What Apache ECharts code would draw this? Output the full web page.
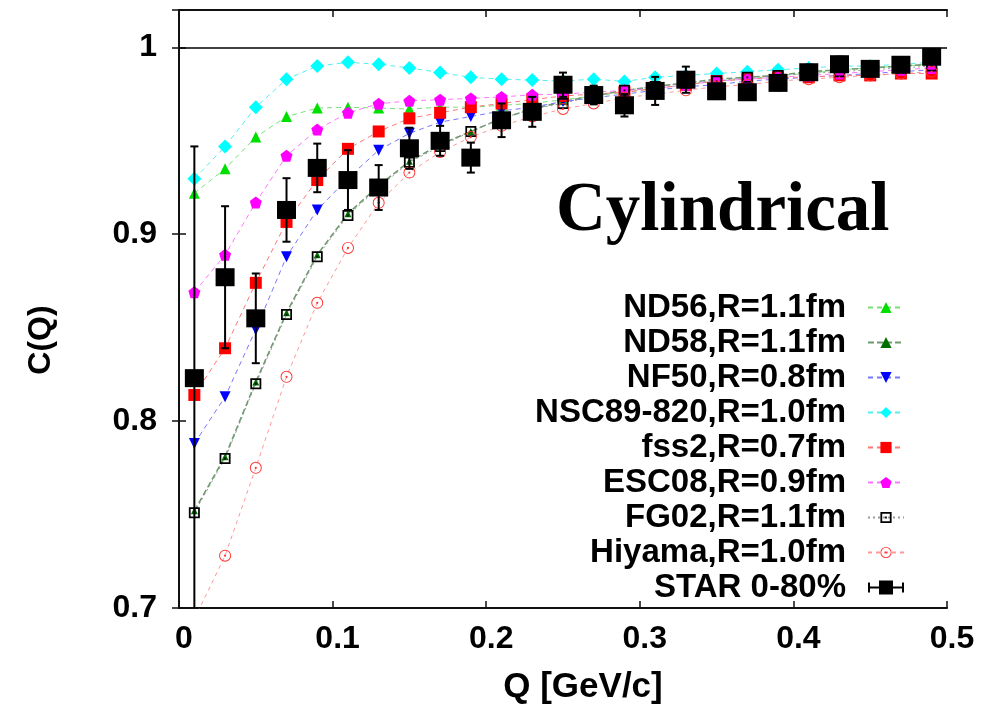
<!DOCTYPE html>
<html><head><meta charset="utf-8">
<script src="https://cdn.jsdelivr.net/npm/echarts/dist/echarts.min.js"></script>
<style>html,body{margin:0;padding:0;background:#fff}#c{width:990px;height:711px}</style>
</head><body><div id="c"></div>
<script>
// ---- data ----
const Q = [0.01,0.03,0.05,0.07,0.09,0.11,0.13,0.15,0.17,0.19,0.21,0.23,0.25,0.27,0.29,0.31,0.33,0.35,0.37,0.39,0.41,0.43,0.45,0.47,0.49];
const ND56   = [0.922,0.935,0.952,0.963,0.9675,0.968,0.9675,0.967,0.968,0.968,0.969,0.970,0.972,0.974,0.976,0.978,0.980,0.982,0.983,0.985,0.986,0.988,0.989,0.990,0.991];
const ND58   = [0.752,0.781,0.821,0.858,0.889,0.911,0.926,0.939,0.948,0.955,0.962,0.967,0.971,0.974,0.977,0.979,0.981,0.983,0.984,0.985,0.987,0.988,0.989,0.990,0.991];
const NF50   = [0.788,0.813,0.849,0.888,0.913,0.930,0.945,0.954,0.960,0.963,0.966,0.968,0.971,0.973,0.975,0.977,0.979,0.980,0.982,0.983,0.984,0.985,0.986,0.987,0.988];
const NSC89  = [0.9297,0.947,0.968,0.983,0.990,0.992,0.991,0.989,0.9865,0.984,0.983,0.9825,0.982,0.983,0.9818,0.984,0.985,0.986,0.987,0.988,0.989,0.990,0.990,0.991,0.992];
const FSS2   = [0.814,0.839,0.874,0.9066,0.929,0.9457,0.955,0.962,0.965,0.968,0.970,0.972,0.974,0.975,0.976,0.978,0.980,0.982,0.983,0.984,0.984,0.985,0.985,0.986,0.986];
const ESC08  = [0.869,0.889,0.917,0.942,0.956,0.965,0.9698,0.9714,0.972,0.9727,0.9735,0.9746,0.975,0.976,0.977,0.978,0.980,0.982,0.983,0.984,0.985,0.986,0.987,0.988,0.989];
const FG02   = [0.751,0.780,0.820,0.857,0.888,0.910,0.925,0.9385,0.947,0.955,0.962,0.967,0.970,0.974,0.977,0.979,0.981,0.982,0.984,0.985,0.986,0.987,0.988,0.989,0.990];
const HIYAMA = [0.694,0.728,0.775,0.8237,0.8633,0.8927,0.9168,0.933,0.944,0.952,0.958,0.963,0.967,0.970,0.973,0.975,0.977,0.979,0.980,0.982,0.983,0.984,0.985,0.986,0.987];
const STAR   = [0.823,0.877,0.855,0.913,0.9355,0.929,0.925,0.946,0.950,0.941,0.961,0.9655,0.980,0.9745,0.969,0.9767,0.9827,0.9765,0.976,0.981,0.9867,0.991,0.9885,0.9907,0.995];
const STARerr= [0.124,0.038,0.024,0.017,0.013,0.016,0.012,0.011,0.008,0.008,0.009,0.008,0.0065,0.005,0.006,0.0075,0.007,0.004,0.004,0.004,0.004,0.004,0.003,0.003,0.003];
const names = ['ND56,R=1.1fm','ND58,R=1.1fm','NF50,R=0.8fm','NSC89-820,R=1.0fm','fss2,R=0.7fm','ESC08,R=0.9fm','FG02,R=1.1fm','Hiyama,R=1.0fm','STAR 0-80%'];
const xTicks = [0,0.1,0.2,0.3,0.4,0.5];
const yTicks = [0.7,0.8,0.9,1.0];

// ---- styling ----
const FONT = '"Liberation Sans", Arial, sans-serif';
const PENTA = 'path://M0,-10L9.51,-3.09L5.88,8.09L-5.88,8.09L-9.51,-3.09Z';
const SQDOT = 'path://M0,0H10V10H0Z M1.6,1.6V8.4H8.4V1.6Z M4.2,4.2H5.8V5.8H4.2Z';
const CIRDOT = 'path://M10,0A10,10,0,1,1,-10,0A10,10,0,1,1,10,0Z M8.4,0A8.4,8.4,0,1,0,-8.4,0A8.4,8.4,0,1,0,8.4,0Z M1.8,0A1.8,1.8,0,1,1,-1.8,0A1.8,1.8,0,1,1,1.8,0Z';
const STARICON = 'path://M0,2H2V12H0Z M34,2H36V12H34Z M2,6H34V8H2Z M11,0H25V14H11Z';

function pts(ys){ return Q.map((q,i)=>[q, ys[i]]); }
function lineSeries(name, ys, symbol, size, mcol, lcol, ltype, lw, extra){
  return Object.assign({
    type:'line', name, data: pts(ys), symbol, symbolSize: size,
    itemStyle:{color:mcol},
    lineStyle:{color:lcol, type:ltype, width:lw},
    clip:true, z:2
  }, extra||{});
}

const series = [
  lineSeries(names[0], ND56, 'triangle', 11, '#00e000', '#77e077', [5,4], 1),
  lineSeries(names[1], ND58, 'triangle', 7, '#006f00', '#6f9a6f', [6,3], 1.6),
  lineSeries(names[2], NF50, 'triangle', 11, '#0000ff', '#7777ff', [5,4], 1, {symbolRotate:180}),
  lineSeries(names[3], NSC89, 'diamond', 14, '#00ffff', '#55eeee', [5,4], 1),
  lineSeries(names[4], FSS2, 'rect', 12, '#ff0000', '#ff7777', [5,4], 1),
  lineSeries(names[5], ESC08, PENTA, 12, '#ff00ff', '#ff77ff', [5,4], 1),
  lineSeries(names[6], FG02, SQDOT, 11, '#000000', '#999999', [2,3], 1),
  lineSeries(names[7], HIYAMA, CIRDOT, 12, '#ff3030', '#ff9999', [4,4], 1),
  {
    type:'scatter', name:names[8], data: pts(STAR), symbol:'rect', symbolSize:[19,18],
    itemStyle:{color:'#000', opacity:1}, z:5, clip:true,
    markLine:{silent:true, symbol:'none', label:{show:false},
      lineStyle:{color:'#000', type:'solid', width:1.5}, data:[{yAxis:1}]}
  },
  {
    type:'custom', name:names[8], clip:true, z:4,
    itemStyle:{color:'#000'},
    data: Q.map((q,i)=>[q, STAR[i]-STARerr[i], STAR[i]+STARerr[i]]),
    renderItem(params, api){
      const x = api.value(0);
      const lo = api.coord([x, api.value(1)]);
      const hi = api.coord([x, api.value(2)]);
      const cw = 4;
      const st = {stroke:'#000', lineWidth:2};
      return {type:'group', children:[
        {type:'line', shape:{x1:lo[0],y1:lo[1],x2:hi[0],y2:hi[1]}, style:st},
        {type:'line', shape:{x1:lo[0]-cw,y1:lo[1],x2:lo[0]+cw,y2:lo[1]}, style:st},
        {type:'line', shape:{x1:hi[0]-cw,y1:hi[1],x2:hi[0]+cw,y2:hi[1]}, style:st}
      ]};
    }
  }
];

const axisLine = {show:true, lineStyle:{color:'#111', width:2}};
const axisTick = {show:true, inside:true, length:7, lineStyle:{color:'#111', width:1.5}};
const lblFont = {fontFamily:FONT, fontSize:32, fontWeight:'bold', color:'#000'};
const nameFont = {fontFamily:FONT, fontSize:35, fontWeight:'bold', color:'#000'};
function yfmt(v){ return yTicks.some(t=>Math.abs(t-v)<1e-6) ? (Math.abs(v-1)<1e-6 ? '1' : v.toFixed(1)) : ''; }
function xfmt(v){ return xTicks.some(t=>Math.abs(t-v)<1e-6) ? (v===0 ? '0' : v.toFixed(1)) : ''; }

const chart = echarts.init(document.getElementById('c'), null, {renderer:'canvas'});
chart.setOption({
  animation:false,
  backgroundColor:'#fff',
  grid:{left:179, right:43, top:10, bottom:103},
  xAxis:[
    {type:'value', min:0, max:0.5, interval:0.1, position:'bottom',
     axisLine, axisTick, splitLine:{show:false},
     axisLabel:Object.assign({margin:15, padding:[0,0,0,10], formatter:xfmt}, lblFont),
     name:'Q [GeV/c]', nameLocation:'middle', nameGap:62,
     nameTextStyle:Object.assign({padding:[0,0,0,40]}, nameFont)},
    {type:'value', min:0, max:0.5, interval:0.1, position:'top',
     axisLine, axisTick, splitLine:{show:false}, axisLabel:{show:false}}
  ],
  yAxis:[
    {type:'value', min:0.7, max:1.02, interval:0.1, position:'left',
     axisLine, axisTick, splitLine:{show:false},
     axisLabel:Object.assign({margin:22, formatter:yfmt}, lblFont),
     name:'C(Q)', nameLocation:'middle', nameGap:122,
     nameTextStyle:Object.assign({padding:[0,62,0,0]}, lblFont)},
    {type:'value', min:0.7, max:1.02, interval:0.1, position:'right',
     axisLine, axisTick, splitLine:{show:false}, axisLabel:{show:false}}
  ],
  legend:{
    orient:'vertical', align:'right', right:85, top:290, padding:0, itemGap:0,
    itemWidth:36, itemHeight:14,
    textStyle:{fontFamily:FONT, fontSize:33, fontWeight:'bold', color:'#000', lineHeight:35, padding:[0,17,0,0]},
    data: names.map((n,i)=> i===8 ? {name:n, icon:STARICON, itemStyle:{color:'#000'}} : {name:n})
  },
  graphic:[{
    type:'text', left:556, top:178,
    style:{text:'Cylindrical', font:'bold 69px "Liberation Serif", "Times New Roman", serif', fill:'#000'}
  }],
  series
});
</script>
</body></html>
